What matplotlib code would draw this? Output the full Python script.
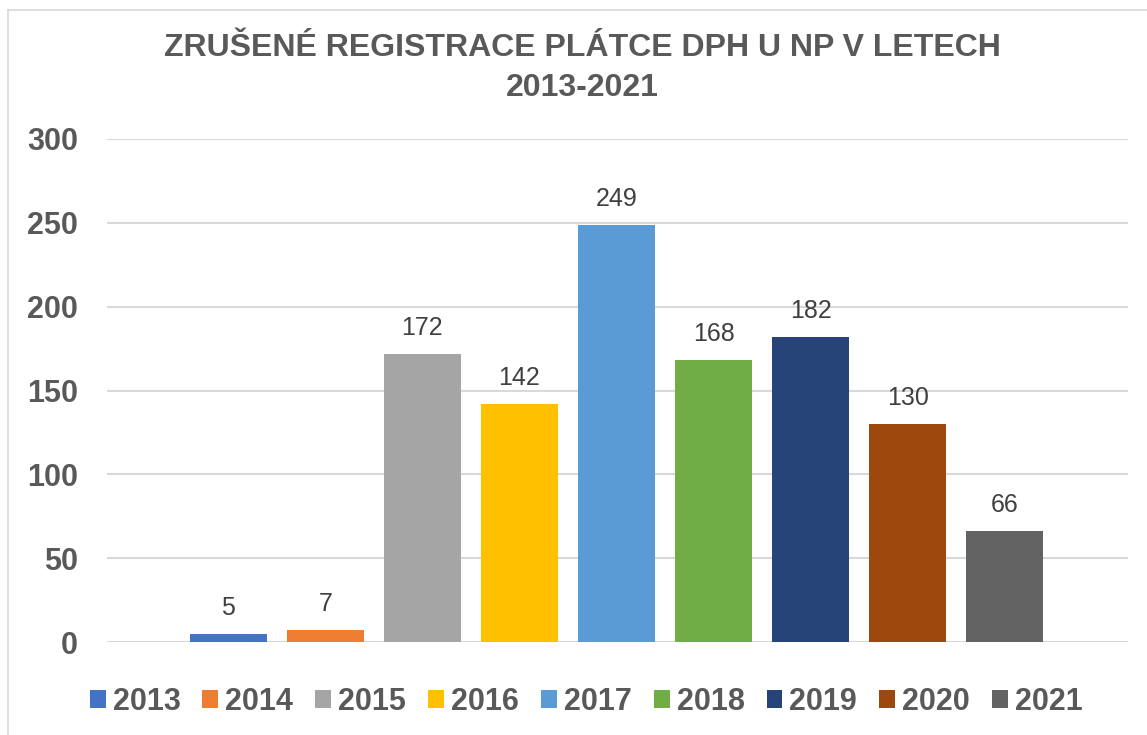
import matplotlib
matplotlib.use("Agg")
import matplotlib.pyplot as plt
from matplotlib.lines import Line2D
from matplotlib.patches import Patch

years = ["2013", "2014", "2015", "2016", "2017", "2018", "2019", "2020", "2021"]
values = [5, 7, 172, 142, 249, 168, 182, 130, 66]
colors = ["#4472C4", "#ED7D31", "#A5A5A5", "#FFC000", "#5B9BD5",
          "#70AD47", "#264478", "#9E480E", "#636363"]
yticks = [0, 50, 100, 150, 200, 250, 300]
title = "ZRUŠENÉ REGISTRACE PLÁTCE DPH U NP V LETECH\n2013-2021"

plt.rcParams['font.family'] = ['Liberation Sans', 'DejaVu Sans']

W, H = 1147, 735
fig = plt.figure(figsize=(W / 100, H / 100), dpi=100)
fig.patch.set_facecolor("white")

left, right = 107 / W, 1128 / W
bottom, top = 1 - 642 / H, 1 - 139 / H
ax = fig.add_axes([left, bottom, right - left, top - bottom])

xs = list(range(len(years)))
bars = ax.bar(xs, values, width=0.79, color=colors, zorder=3, label=years)
ax.set_xlim(-0.395 - 83 / 97, 8.395 + 85 / 97)
ax.set_ylim(0, 300)
ax.set_yticks(yticks)
ax.set_yticklabels([str(t) for t in yticks], fontsize=22, fontweight="bold", color="#595959")
ax.tick_params(axis="y", length=0, pad=21)
ax.set_xticks([])
ax.grid(axis="y", color="#D9D9D9", linewidth=1.5, zorder=0)
for s in ax.spines.values():
    s.set_visible(False)

for x, v in zip(xs, values):
    ax.annotate(str(v), (x, v), xytext=(0, 10), textcoords="offset points",
                ha="center", va="bottom", fontsize=18, color="#404040")

fig.text(0.508, 1 - 68 / H, title, ha="center", va="center", fontsize=23,
         fontweight="bold", color="#595959", linespacing=1.45)

handles = [Patch(facecolor=c, edgecolor="none") for c in colors]
leg = fig.legend(handles, years, loc="center", bbox_to_anchor=(0.511, 1 - 702 / H),
                 ncol=9, frameon=False, handlelength=0.52, handleheight=0.52,
                 handletextpad=0.23, columnspacing=0.72,
                 prop={"size": 22, "weight": "bold"})
for t in leg.get_texts():
    t.set_color("#595959")

# chart border (top and left)
fig.add_artist(Line2D([8 / W, 1], [1 - 10 / H, 1 - 10 / H], color="#D9D9D9", lw=1.2))
fig.add_artist(Line2D([8 / W, 8 / W], [0, 1 - 10 / H], color="#D9D9D9", lw=1.2))

fig.savefig("out.png", dpi=100)
